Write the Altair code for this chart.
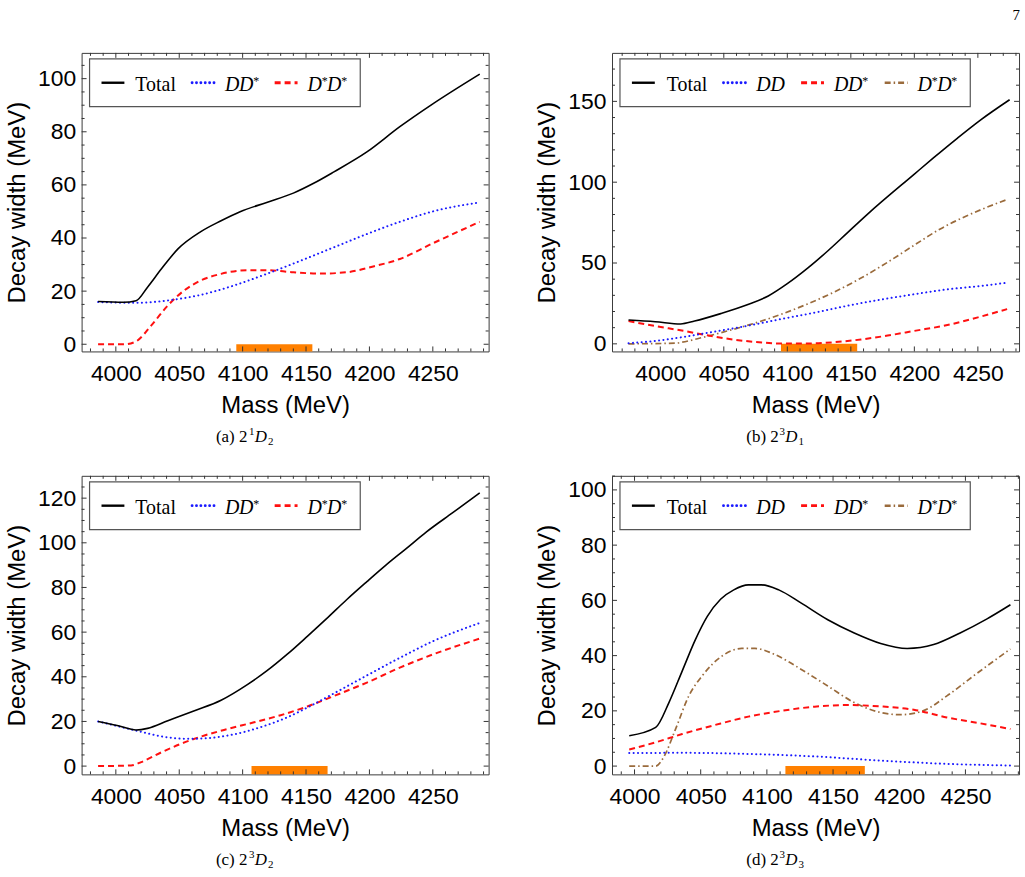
import altair as alt
import pandas as pd

SANS = "Liberation Sans"
SERIF = "Liberation Serif"

# ---------------- decay widths (MeV) vs mass (MeV) ----------------
# (a) 2^1D_2
A_TOTAL_MASS = [3986, 4006, 4016, 4025, 4036, 4049, 4067, 4083, 4098, 4119, 4140, 4156, 4172, 4198, 4224, 4250, 4287]
A_TOTAL_WIDTH = [16.1, 15.8, 16.4, 21.5, 28.4, 35.9, 42.4, 46.5, 49.9, 53.4, 56.9, 60.6, 64.9, 72.4, 81.9, 90.5, 101.7]
A_DDS_MASS = [3986, 4015, 4041, 4067, 4093, 4119, 4146, 4172, 4198, 4224, 4250, 4287]
A_DDS_WIDTH = [15.9, 15.6, 16.5, 18.6, 22.1, 26.5, 31.5, 36.5, 41.5, 46.1, 50.0, 53.4]
A_DSDS_MASS = [3986, 4007, 4016, 4028, 4041, 4054, 4067, 4083, 4104, 4119, 4140, 4161, 4182, 4203, 4224, 4250, 4287]
A_DSDS_WIDTH = [0, 0, 1.1, 7.1, 14.6, 20.3, 24.0, 26.5, 27.9, 27.9, 27.1, 26.6, 27.1, 29.3, 32.1, 38.0, 46.1]
A_BAND = [4095, 4155]

# (b) 2^3D_1
B_TOTAL_MASS = [3975, 3996, 4016, 4027, 4048, 4069, 4085, 4100, 4116, 4132, 4147, 4163, 4200, 4215, 4234, 4252, 4275]
B_TOTAL_WIDTH = [14.7, 13.7, 12.3, 14.1, 18.8, 24.3, 29.6, 37.2, 46.8, 57.6, 68.5, 80.1, 105.0, 115.0, 127.3, 138.4, 151.0]
B_DD_MASS = [3975, 3996, 4017, 4043, 4069, 4095, 4121, 4147, 4174, 4200, 4226, 4252, 4273]
B_DD_WIDTH = [0.4, 1.8, 4.1, 7.6, 11.2, 15.3, 19.2, 23.5, 27.4, 30.7, 33.7, 35.8, 37.8]
B_DDS_MASS = [3975, 3996, 4017, 4038, 4059, 4080, 4095, 4116, 4137, 4158, 4179, 4200, 4226, 4252, 4273]
B_DDS_WIDTH = [14.1, 11.0, 8.2, 5.1, 2.5, 0.8, 0.2, 0.2, 1.0, 2.7, 5.1, 8.0, 11.6, 16.8, 21.5]
B_DSDS_MASS = [3975, 4012, 4017, 4033, 4053, 4074, 4095, 4116, 4137, 4158, 4179, 4200, 4220, 4241, 4273]
B_DSDS_WIDTH = [0, 0.4, 1.0, 3.9, 8.0, 12.7, 18.2, 24.7, 32.1, 40.7, 50.5, 61.1, 70.9, 79.1, 89.3]
B_BAND = [4095, 4155]

# (c) 2^3D_2
C_TOTAL_MASS = [3986, 4002, 4016, 4025, 4041, 4062, 4083, 4104, 4119, 4135, 4151, 4166, 4182, 4198, 4213, 4229, 4245, 4266, 4287]
C_TOTAL_WIDTH = [20.0, 18.1, 16.2, 16.9, 20.3, 24.8, 29.5, 36.6, 42.6, 50.0, 58.1, 65.9, 74.5, 82.6, 90.0, 97.4, 104.9, 113.6, 122.4]
C_DDS_MASS = [3986, 4016, 4036, 4057, 4072, 4093, 4114, 4135, 4156, 4177, 4198, 4224, 4250, 4287]
C_DDS_WIDTH = [20.0, 15.9, 13.3, 12.2, 12.5, 14.2, 17.4, 21.8, 27.7, 34.1, 40.6, 48.5, 55.9, 64.1]
C_DSDS_MASS = [3986, 4012, 4020, 4036, 4051, 4067, 4088, 4109, 4130, 4151, 4172, 4198, 4224, 4250, 4287]
C_DSDS_WIDTH = [0, 0.3, 1.8, 6.2, 9.9, 13.2, 16.6, 19.6, 22.8, 26.7, 31.4, 37.4, 44.1, 50.0, 57.1]
C_BAND = [4107, 4167]

# (d) 2^3D_3
D_TOTAL_MASS = [3996, 4016, 4026, 4036, 4046, 4055, 4065, 4075, 4086, 4096, 4109, 4126, 4146, 4166, 4186, 4206, 4226, 4246, 4266, 4284]
D_TOTAL_WIDTH = [11.0, 14.0, 23.0, 34.4, 45.8, 54.2, 60.4, 63.8, 65.6, 65.6, 63.8, 59.0, 53.0, 48.2, 44.4, 42.6, 44.0, 48.2, 53.2, 58.4]
D_DD_MASS = [3996, 4036, 4086, 4136, 4186, 4236, 4284]
D_DD_WIDTH = [4.7, 4.8, 4.4, 3.5, 2.0, 0.8, 0.2]
D_DDS_MASS = [3996, 4016, 4036, 4061, 4086, 4111, 4136, 4161, 4186, 4211, 4236, 4261, 4284]
D_DDS_WIDTH = [6.0, 8.6, 11.6, 14.9, 17.9, 20.0, 21.5, 22.1, 21.6, 20.4, 17.6, 15.5, 13.4]
D_DSDS_MASS = [3996, 4016, 4022, 4031, 4041, 4051, 4066, 4081, 4091, 4106, 4126, 4146, 4166, 4186, 4201, 4218, 4236, 4256, 4284]
D_DSDS_WIDTH = [0, 0, 3.2, 13.4, 25.4, 32.6, 39.8, 42.6, 42.6, 40.4, 35.0, 29.0, 23.0, 19.4, 18.6, 20.0, 25.4, 32.6, 42.4]
D_BAND = [4114, 4174]

X_LABELS = [4000, 4050, 4100, 4150, 4200, 4250]
A_Y_LABELS = [0, 20, 40, 60, 80, 100]
B_Y_LABELS = [0, 50, 100, 150]
C_Y_LABELS = [0, 20, 40, 60, 80, 100, 120]
D_Y_LABELS = [0, 20, 40, 60, 80, 100]

# ---------------- styling ----------------
W, H = 409, 300
ORANGE = "#ff8000"
LINE_STYLES = {
    "solid": dict(color="#000000", strokeWidth=1.6),
    "dotted": dict(color="#1a1aff", strokeWidth=2.0, strokeDash=[0.1, 4.3], strokeCap="round"),
    "dashed": dict(color="#ff1010", strokeWidth=2.0, strokeDash=[6, 4]),
    "dotdash": dict(color="#9a6b3c", strokeWidth=1.7, strokeDash=[6, 3, 1.5, 3]),
}
ONE_ROW = pd.DataFrame({"k": [0]})


def rich_text(pieces, x0, y0):
    """pieces: (text, size, italic, dy, advance) drawn left to right from (x0, y0)."""
    out = []
    x = x0
    for text, size, italic, dy, adv in pieces:
        out.append(
            alt.Chart(ONE_ROW).mark_text(
                text=text, align="left", baseline="alphabetic", font=SERIF,
                fontSize=size, fontStyle="italic" if italic else "normal", color="black",
            ).encode(x=alt.value(x), y=alt.value(y0 + dy))
        )
        x += adv
    return out


def label_pieces(label):
    if label == "Total":
        return [("Total", 20, False, 0, 40)]
    pieces = []
    for ch in label:
        if ch == "*":
            pieces.append(("*", 12, False, -6, 5.5))
        else:
            pieces.append((ch, 20, True, 0, 14.2))
    return pieces


def ticks_layers(values_major, values_minor, field, enc, side):
    out = []
    for vals, ln in ((values_major, 5), (values_minor, 3)):
        tdf = pd.DataFrame({field: vals})
        if side == "bottom":
            e = dict(y=alt.value(H), y2=alt.value(H - ln))
        elif side == "top":
            e = dict(y=alt.value(0), y2=alt.value(ln))
        elif side == "left":
            e = dict(x=alt.value(0), x2=alt.value(ln))
        else:
            e = dict(x=alt.value(W), x2=alt.value(W - ln))
        key = "x" if field == "mass" else "y"
        e[key] = enc
        out.append(alt.Chart(tdf).mark_rule(color="#333333", strokeWidth=1).encode(**e))
    return out


def panel(series, xdom, ydom, ylabels, ystep, band, legend, caption):
    rows = []
    for name, style, masses, widths in series:
        for m, w in zip(masses, widths):
            rows.append({"mass": m, "width": w, "series": name})
    df = pd.DataFrame(rows)

    X = alt.X(
        "mass:Q",
        scale=alt.Scale(domain=xdom, nice=False, zero=False),
        axis=alt.Axis(
            values=X_LABELS, format="d", title="Mass (MeV)", grid=False, domain=False,
            ticks=False, tickSize=0, labelFont=SANS, labelFontSize=23, labelColor="black",
            labelPadding=11, titleFont=SANS, titleFontSize=24, titleFontWeight="normal",
            titleColor="black", titlePadding=8, labelFlush=False,
        ),
    )
    Y = alt.Y(
        "width:Q",
        scale=alt.Scale(domain=ydom, nice=False, zero=False),
        axis=alt.Axis(
            values=ylabels, format="d", title="Decay width (MeV)", grid=False, domain=False,
            ticks=False, tickSize=0, labelFont=SANS, labelFontSize=23, labelColor="black",
            labelPadding=6, titleFont=SANS, titleFontSize=24, titleFontWeight="normal",
            titleColor="black", titlePadding=8, labelFlush=False,
        ),
    )

    layers = []
    band_df = pd.DataFrame({"mass": [band[0]], "mass2": [band[1]], "width": [0], "width2": [ydom[0]]})
    layers.append(alt.Chart(band_df).mark_rect(color=ORANGE).encode(x=X, x2="mass2", y=Y, y2="width2"))

    # curves, drawn back to front
    for name, style, _, _ in reversed(series):
        layers.append(
            alt.Chart(df).transform_filter(alt.datum.series == name)
            .mark_line(interpolate="monotone", clip=True, **LINE_STYLES[style])
            .encode(x=X, y=Y)
        )

    # inward frame ticks
    xmaj = [v for v in X_LABELS if xdom[0] <= v <= xdom[1]]
    xmin = [v for v in range(3960, 4300, 10) if xdom[0] < v < xdom[1] and v not in xmaj]
    ymaj = [v for v in ylabels if ydom[0] <= v <= ydom[1]]
    ymin = [v for v in range(0, 200, ystep) if ydom[0] < v < ydom[1] and v not in ymaj]
    for side in ("bottom", "top"):
        layers += ticks_layers(xmaj, xmin, "mass", X, side)
    for side in ("left", "right"):
        layers += ticks_layers(ymaj, ymin, "width", Y, side)

    # legend box
    box_right = 280 if len(series) == 3 else 360
    layers.append(
        alt.Chart(ONE_ROW).mark_rect(fill="white", stroke="#555555", strokeWidth=1.2)
        .encode(x=alt.value(8), x2=alt.value(box_right), y=alt.value(6), y2=alt.value(54))
    )
    for (name, style, _, _), (sx, tx) in zip(series, legend):
        st = dict(LINE_STYLES[style])
        st["strokeWidth"] = st["strokeWidth"] + 0.8
        layers.append(
            alt.Chart(ONE_ROW).mark_rule(**st)
            .encode(x=alt.value(sx), x2=alt.value(sx + 23), y=alt.value(30))
        )
        layers += rich_text(label_pieces(name), tx, 38.5)

    # caption below the panel
    tag, sup, sub = caption
    cap = [(f"({tag}) 2", 17, False, 0, 33.3), (sup, 11, False, -7, 5.7),
           ("D", 17, True, 0, 13.3), (sub, 11, False, 3, 6)]
    layers += rich_text(cap, 135, 391)

    return alt.layer(*layers).properties(width=W, height=H)


LEG3 = [(20, 54), (111, 144), (194, 227)]
LEG4 = [(20, 55), (112, 145), (190, 223), (274, 307)]

pa = panel(
    [("Total", "solid", A_TOTAL_MASS, A_TOTAL_WIDTH),
     ("DD*", "dotted", A_DDS_MASS, A_DDS_WIDTH),
     ("D*D*", "dashed", A_DSDS_MASS, A_DSDS_WIDTH)],
    [3973, 4294], [-2.7, 109.7], A_Y_LABELS, 5, A_BAND, LEG3, ("a", "1", "2"),
)
pb = panel(
    [("Total", "solid", B_TOTAL_MASS, B_TOTAL_WIDTH),
     ("DD", "dotted", B_DD_MASS, B_DD_WIDTH),
     ("DD*", "dashed", B_DDS_MASS, B_DDS_WIDTH),
     ("D*D*", "dotdash", B_DSDS_MASS, B_DSDS_WIDTH)],
    [3962, 4282.4], [-4.7, 180], B_Y_LABELS, 10, B_BAND, LEG4, ("b", "3", "1"),
)
pc = panel(
    [("Total", "solid", C_TOTAL_MASS, C_TOTAL_WIDTH),
     ("DD*", "dotted", C_DDS_MASS, C_DDS_WIDTH),
     ("D*D*", "dashed", C_DSDS_MASS, C_DSDS_WIDTH)],
    [3973, 4294], [-3.7, 130], C_Y_LABELS, 5, C_BAND, LEG3, ("c", "3", "2"),
)
pd_ = panel(
    [("Total", "solid", D_TOTAL_MASS, D_TOTAL_WIDTH),
     ("DD", "dotted", D_DD_MASS, D_DD_WIDTH),
     ("DD*", "dashed", D_DDS_MASS, D_DDS_WIDTH),
     ("D*D*", "dotdash", D_DSDS_MASS, D_DSDS_WIDTH)],
    [3983, 4290.5], [-3.0, 105.1], D_Y_LABELS, 5, D_BAND, LEG4, ("d", "3", "3"),
)

chart = (
    alt.vconcat(
        alt.hconcat(pa, pb, spacing=46),
        alt.hconcat(pc, pd_, spacing=46),
        spacing=27,
    )
    .properties(
        title=alt.TitleParams("7", anchor="end", font=SERIF, fontSize=15,
                              fontWeight="normal", color="black", offset=29),
        padding={"left": 5, "top": 6, "right": 5, "bottom": 5},
        background="white",
    )
    .configure_view(stroke="#3a3a3a", strokeWidth=1)
)

chart.save("out.html", embed_options={"renderer": "svg", "actions": False})
